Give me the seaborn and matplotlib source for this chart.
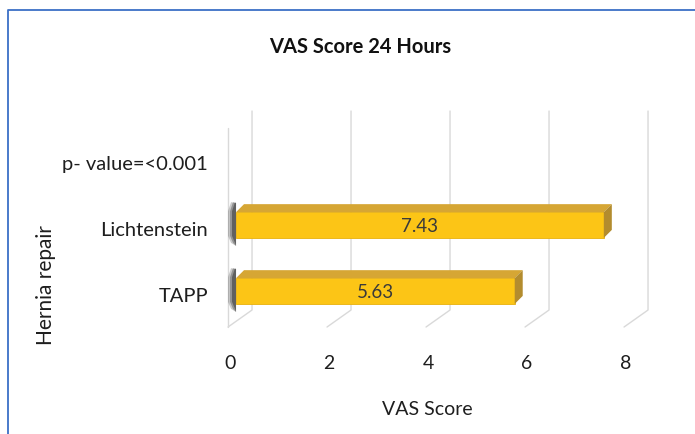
import numpy as np
import matplotlib
matplotlib.use("Agg")
import matplotlib.pyplot as plt
from matplotlib.patches import Polygon, Rectangle
from matplotlib.lines import Line2D
from matplotlib.transforms import ScaledTranslation
import seaborn as sns

# chart data
categories = ["p- value=<0.001", "Lichtenstein", "TAPP"]
vas_scores = [np.nan, 7.43, 5.63]
value_labels = ["7.43", "5.63"]
x_ticks = [0, 2, 4, 6, 8]
title = "VAS Score 24 Hours"

sns.set_theme(style="white")
plt.rcParams["font.family"] = ["Lato", "DejaVu Sans"]

fig = plt.figure(figsize=(6.95, 4.34), dpi=100)
ax = fig.add_axes([0.3396, 0.2465, 0.5698, 0.4977])

bar_face = "#FCC516"
bar_top = "#D6A634"
bar_side = "#B38C2E"
grid_col = "#D9D9D9"
text_col = "#1E1E1E"

sns.barplot(x=vas_scores, y=categories, order=categories, orient="h",
            color=bar_face, saturation=1, width=0.39, ax=ax,
            edgecolor="#E8B10C", linewidth=0.6, zorder=3)

ax.set_xlim(0, 8)
ax.set_ylim(2.545, -0.727)

# pixel -> data helpers for the pseudo 3D look
px_x = 1 / 49.5
px_y = 1 / 66.0
back_dx, front_dx = 16 * px_x, -8 * px_x

# back-wall gridlines with floor diagonals
floor_back = 17 / 216
trans = ax.get_xaxis_transform()
for v in x_ticks:
    ax.add_line(Line2D([v + back_dx, v + back_dx, v + front_dx], [1.0, floor_back, 0.0],
                       transform=trans, color=grid_col, lw=1.0, zorder=1, clip_on=False))
# left wall front edge
ax.add_line(Line2D([x_ticks[0] + front_dx, x_ticks[0] + front_dx], [0.921, 0.0],
                   transform=trans, color=grid_col, lw=1.0, zorder=1, clip_on=False))

# 3D top / side faces and soft left shadow for each bar
depth_x, depth_y = 8 * px_x, 8 * px_y
bars = [p for p in ax.patches if isinstance(p, Rectangle) and np.isfinite(p.get_width()) and p.get_width() > 0]
for p in bars:
    x0, x1 = p.get_x(), p.get_x() + p.get_width()
    ytop, ybot = p.get_y(), p.get_y() + p.get_height()
    top = Polygon([(x0, ytop), (x0 + depth_x, ytop - depth_y), (x1 + depth_x, ytop - depth_y), (x1, ytop)],
                  closed=True, facecolor=bar_top, edgecolor="none", zorder=3, clip_on=False)
    side = Polygon([(x1, ytop), (x1 + depth_x, ytop - depth_y), (x1 + depth_x, ybot - depth_y), (x1, ybot)],
                   closed=True, facecolor=bar_side, edgecolor="none", zorder=3, clip_on=False)
    ax.add_patch(top)
    ax.add_patch(side)
    for k, a in [(8, 0.25), (6, 0.35), (4, 0.5)]:
        shadow = Polygon([(x0 - k * px_x, ytop - 1 * px_y), (x0 - (k - 3) * px_x, ytop - 10 * px_y),
                          (x0, ytop - 9 * px_y), (x0, ybot + 8 * px_y), (x0 - (k - 3) * px_x, ybot + 5 * px_y),
                          (x0 - k * px_x, ybot - 2 * px_y)],
                         closed=True, facecolor="#2E2E2E", alpha=a, edgecolor="none", zorder=2, clip_on=False)
        ax.add_patch(shadow)

for p, lab in zip(bars, value_labels):
    ax.text(p.get_x() + p.get_width() / 2, p.get_y() + p.get_height() / 2 + 1 * px_y, lab,
            ha="center", va="center", fontsize=13.5, color="#3A3A3A", zorder=5)

for s in ax.spines.values():
    s.set_visible(False)
ax.grid(False)

ax.set_xticks(x_ticks)
ax.set_xticklabels([str(t) for t in x_ticks])
ax.tick_params(axis="x", length=0, pad=20, labelsize=14, labelcolor=text_col)
ax.tick_params(axis="y", length=0, pad=20, labelsize=14.5, labelcolor=text_col)
for lab in ax.get_xticklabels():
    lab.set_transform(lab.get_transform() + ScaledTranslation(-0.06, 0, fig.dpi_scale_trans))
for lab in ax.get_yticklabels():
    lab.set_transform(lab.get_transform() + ScaledTranslation(0, -0.04, fig.dpi_scale_trans))

ax.set_xlabel("VAS Score", fontsize=14, color=text_col)
ax.xaxis.label.set_va("center")
ax.xaxis.set_label_coords(0.482, -0.384)
ax.set_ylabel("Hernia repair", fontsize=15, color=text_col)
ax.yaxis.label.set_va("center")
ax.yaxis.set_label_coords(-0.480, 0.194)

fig.text(360 / 695, 1 - 47 / 434, title, ha="center", va="center",
         fontsize=14.5, fontweight="bold", color="#111111")

# blue frame (top and left edges)
border = "#3C6FC6"
fig.add_artist(Line2D([8 / 695, 8 / 695, 1.0], [0.0, 1 - 10 / 434, 1 - 10 / 434],
                      transform=fig.transFigure, color=border, lw=1.3))

fig.savefig("out.png", dpi=100)
